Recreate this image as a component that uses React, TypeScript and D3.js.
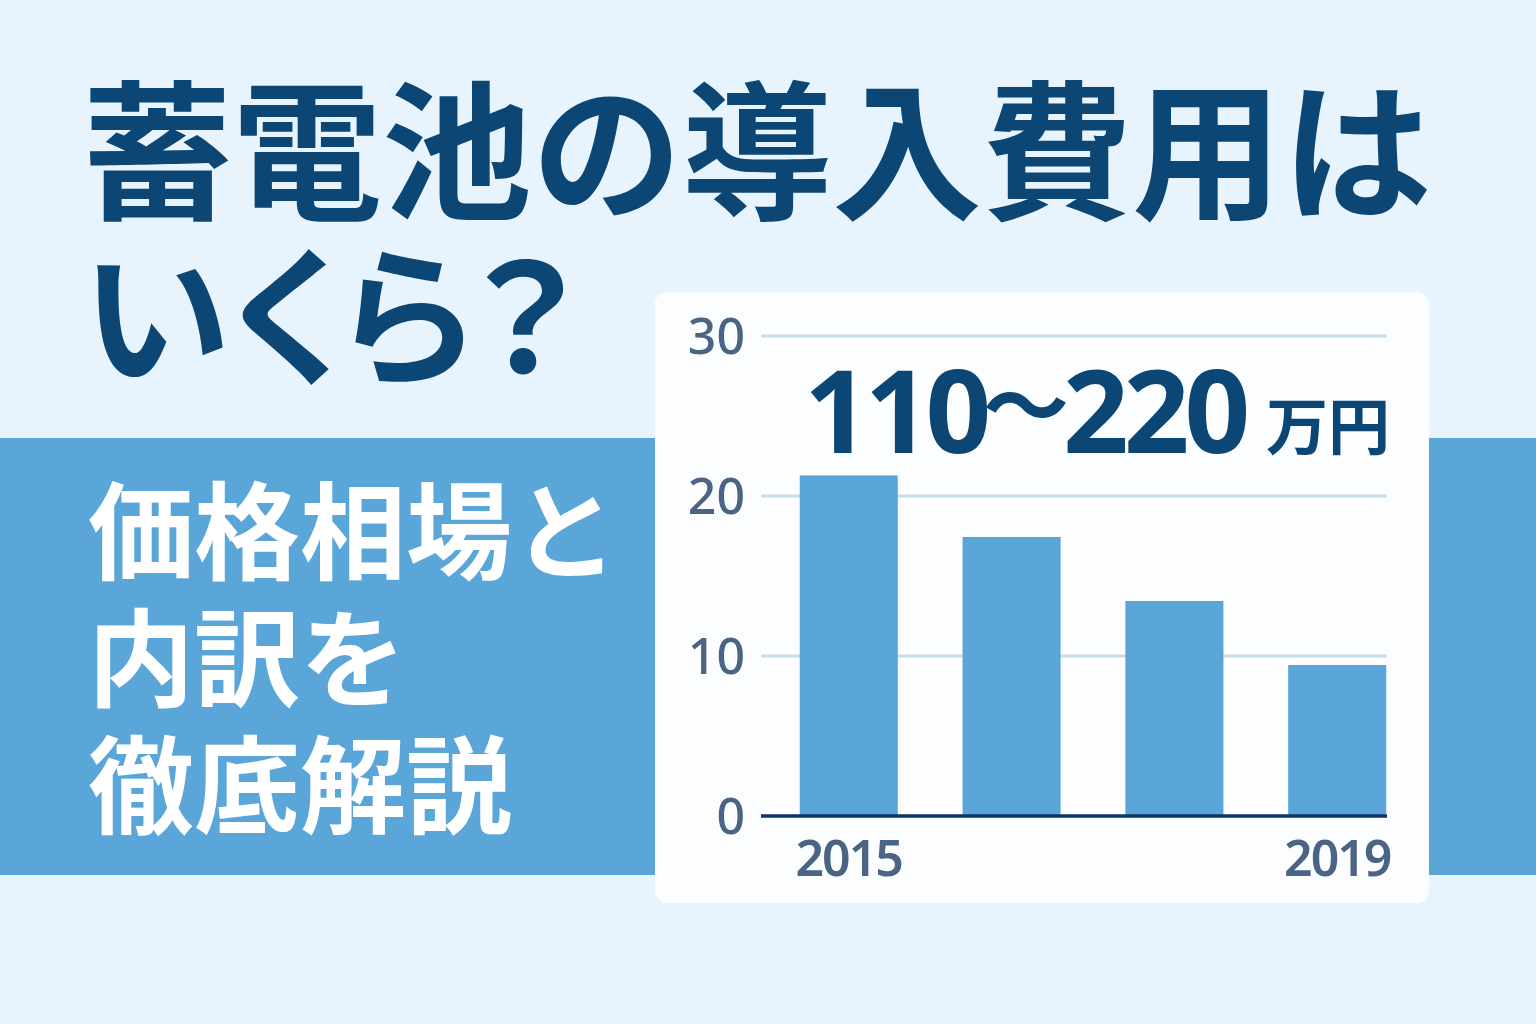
import React from 'react';
import * as d3 from 'd3';

// chart data
const years = ['2015', '2016', '2018', '2019'];
const costs = [21.25, 17.4, 13.4, 9.4];
const yTicks = [0, 10, 20, 30];
const shownYearLabels = ['2015', '2019'];

const titleLines = ['蓄電池の導入費用は', 'いくら？'];
const subLines = ['価格相場と', '内訳を', '徹底解説'];
const priceLow = '110';
const priceHigh = '220';
const priceUnit = '万円';

const W = 1536;
const H = 1024;
const NAVY = '#0b4675';
const BLUE = '#5ba6d9';
const AXIS_TEXT = '#4b6484';
const CJK = '"Noto Sans CJK JP", "Noto Sans", sans-serif';
const LATIN = '"Noto Sans", "Noto Sans CJK JP", sans-serif';

export default function App() {
  const x = d3.scaleBand<string>()
    .domain(years)
    .range([762, 1424])
    .paddingInner(0.405)
    .paddingOuter(0.235);

  const y = d3.scaleLinear().domain([0, 30]).range([816, 336]);

  const gridX0 = 761;
  const gridX1 = 1387;

  return (
    <svg width={W} height={H} viewBox={`0 0 ${W} ${H}`}
      style={{ display: 'block', position: 'absolute', left: 0, top: 0 }}>
      <rect width={W} height={H} fill="#e8f4fd" />
      <rect x={0} y={438} width={W} height={437} fill={BLUE} />

      {/* title, two lines in one text block */}
      <text fill={NAVY} fontFamily={CJK} fontWeight={700} fontSize={150}>
        {titleLines.map((t, i) => (
          <tspan key={t} x={82} y={208 + i * 165}
            style={i === 1 ? { fontFeatureSettings: '"palt"' } : undefined}>{t}</tspan>
        ))}
      </text>

      {/* subtitle in band */}
      <text fill="#ffffff" fontFamily={CJK} fontWeight={700} fontSize={106}>
        {subLines.map((t, i) => (
          <tspan key={t} x={88} y={571 + i * 127}>{t}</tspan>
        ))}
      </text>

      {/* card */}
      <rect x={655} y={292} width={774} height={611} rx={12} fill="#fbfdff" />

      {/* gridlines */}
      {yTicks.filter(v => v > 0).map(v => (
        <line key={v} x1={gridX0} x2={gridX1} y1={y(v)} y2={y(v)}
          stroke="#c6ddec" strokeWidth={3} />
      ))}

      {/* bars */}
      {years.map((yr, i) => (
        <rect key={yr} x={x(yr)} y={y(costs[i])}
          width={x.bandwidth()} height={y(0) - y(costs[i])}
          fill={BLUE} stroke="#519dd3" strokeWidth={1} />
      ))}

      {/* zero axis */}
      <line x1={gridX0} x2={gridX1} y1={y(0)} y2={y(0)} stroke="#0c3563" strokeWidth={3.5} />

      {/* y tick labels */}
      {yTicks.map(v => (
        <text key={v} x={745} y={y(v)} dy="0.36em" textAnchor="end"
          fill={AXIS_TEXT} fontFamily={LATIN} fontWeight={500} fontSize={50}>{v}</text>
      ))}

      {/* x labels */}
      {shownYearLabels.map(yr => (
        <text key={yr} x={(x(yr) ?? 0) + x.bandwidth() / 2} y={876} textAnchor="middle"
          fill={AXIS_TEXT} fontFamily={LATIN} fontWeight={600} fontSize={50}
          letterSpacing={-2}>{yr}</text>
      ))}

      {/* headline price */}
      <text x={804} y={453} fill={NAVY} fontFamily={LATIN} fontWeight={700} fontSize={115}
        letterSpacing={-5}>{priceLow}</text>
      <text x={983} y={438} fill={NAVY} fontFamily={CJK} fontWeight={700} fontSize={86}>～</text>
      <text x={1063} y={453} fill={NAVY} fontFamily={LATIN} fontWeight={700} fontSize={115}
        letterSpacing={-5}>{priceHigh}</text>
      <text x={1266} y={450} fill={NAVY} fontFamily={CJK} fontWeight={700} fontSize={62}>{priceUnit}</text>
    </svg>
  );
}
